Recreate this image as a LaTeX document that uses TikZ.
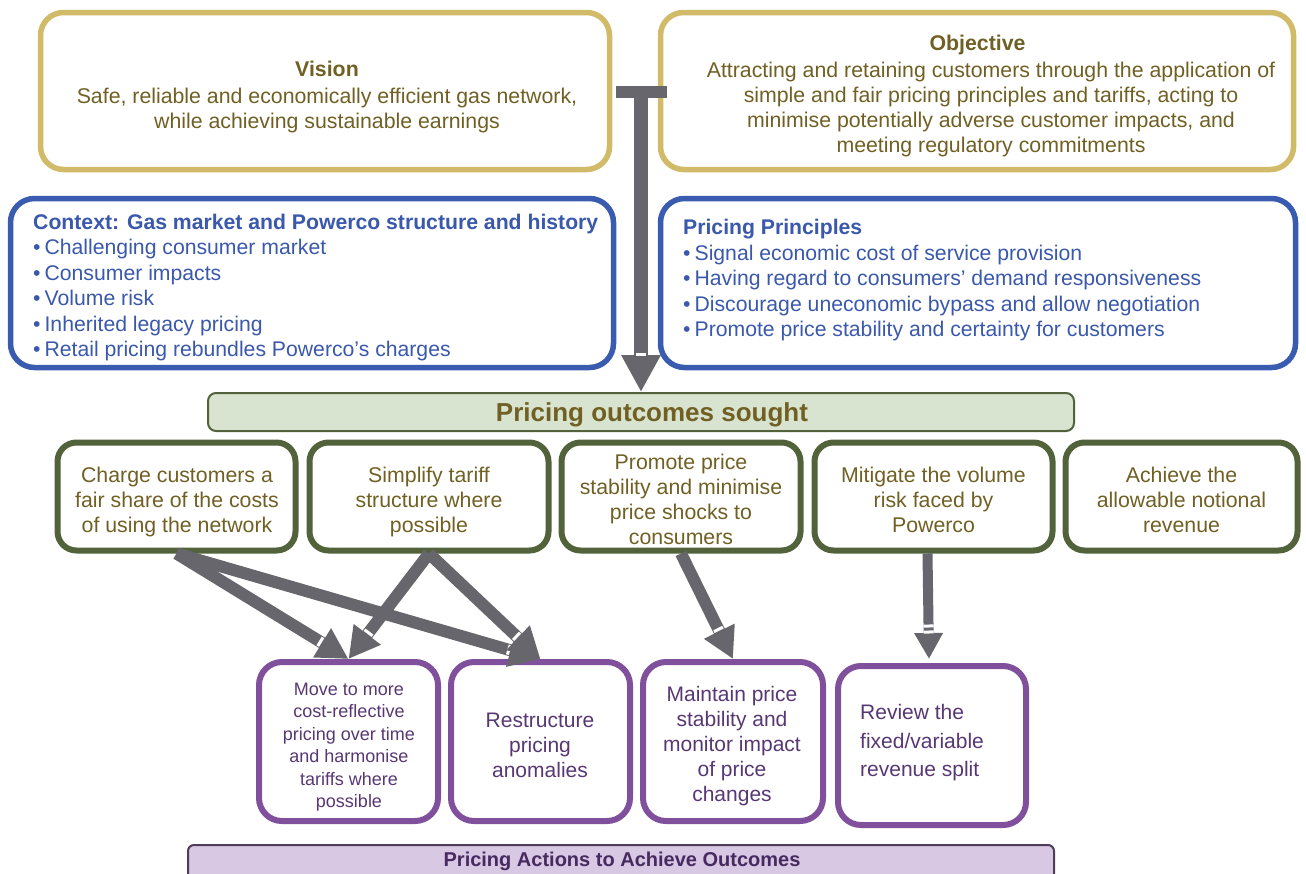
\documentclass[tikz,border=0pt]{standalone}
\usepackage{fontspec}
\setmainfont{Liberation Sans}
\usetikzlibrary{arrows.meta,calc,decorations.markings}
\definecolor{goldline}{RGB}{209,186,104}
\definecolor{olivetext}{RGB}{112,96,36}
\definecolor{blueline}{RGB}{58,92,176}
\definecolor{bluetext}{RGB}{58,88,172}
\definecolor{greenline}{RGB}{82,98,58}
\definecolor{greenfill}{RGB}{216,227,208}
\definecolor{purpleline}{RGB}{128,80,156}
\definecolor{purpletext}{RGB}{88,56,116}
\definecolor{lilacfill}{RGB}{216,200,228}
\definecolor{lilacline}{RGB}{78,60,88}
\definecolor{actiontext}{RGB}{70,42,96}
\definecolor{arrowgrey}{RGB}{103,102,108}
\begin{document}
\begin{tikzpicture}[x=1pt,y=-1pt,
  goldbox/.style={draw=goldline,line width=5.5pt,rounded corners=23pt,fill=white},
  bluebox/.style={draw=blueline,line width=5.5pt,rounded corners=24pt,fill=white},
  greenbox/.style={draw=greenline,line width=6pt,rounded corners=19pt,fill=white},
  purplebox/.style={draw=purpleline,line width=6pt,rounded corners=23pt,fill=white},
  bartxt/.style={inner sep=0pt,font=\bfseries\fontsize{21pt}{25pt}\selectfont},
  goldtxt/.style={inner sep=0pt,align=center,text=olivetext,font=\fontsize{21.3pt}{25pt}\selectfont},
  bluetxt/.style={inner sep=0pt,align=left,anchor=west,text=bluetext,font=\fontsize{21.2pt}{25.5pt}\selectfont},
  greentxt/.style={inner sep=0pt,align=center,text=olivetext,font=\fontsize{21.3pt}{25pt}\selectfont},
  purpletxt/.style={inner sep=0pt,align=center,text=purpletext,font=\fontsize{21pt}{25pt}\selectfont},
  notch/.style={postaction={decorate,decoration={markings,
     mark=at position -#1 with {\fill[white] (-1.5pt,-5pt) rectangle (1.5pt,5pt);}}}},
  bigarrow/.style={draw=arrowgrey,line width=12pt,-{Triangle[length=31pt,width=32pt]},notch=33pt},
]
\clip (0,0) rectangle (1306,873);
\fill[white] (0,0) rectangle (1306,873);

% top boxes
\node[goldbox,minimum width=569pt,minimum height=157pt] (vision) at (325,91) {};
\node[goldbox,minimum width=633pt,minimum height=157pt] (objective) at (977,91) {};
\node[bluebox,minimum width=603pt,minimum height=169pt] (context) at (312,283) {};
\node[bluebox,minimum width=635pt,minimum height=169pt] (principles) at (978,283) {};

\node[goldtxt] (visiontext) at (327,96.5) {\textbf{Vision}\\[2pt]
  Safe, reliable and economically efficient gas network,\\
  while achieving sustainable earnings};
\node[goldtxt] (objectivetext) at (991,96) {\textbf{Objective}\hspace*{27pt}\\[2pt]
  Attracting and retaining customers through the application of\\
  simple and fair pricing principles and tariffs, acting to\\
  minimise potentially adverse customer impacts, and\\
  meeting regulatory commitments};

\node[bluetxt] (contexttext) at (33,287.5) {\textbf{Context: Gas market and Powerco structure and history}\\
  •\kern4pt Challenging consumer market\\
  •\kern4pt Consumer impacts\\
  •\kern4pt Volume risk\\
  •\kern4pt Inherited legacy pricing\\
  •\kern4pt Retail pricing rebundles Powerco’s charges};
\node[bluetxt] (principlestext) at (683,280.5) {\textbf{Pricing Principles}\\
  •\kern4pt Signal economic cost of service provision\\
  •\kern4pt Having regard to consumers’ demand responsiveness\\
  •\kern4pt Discourage uneconomic bypass and allow negotiation\\
  •\kern4pt Promote price stability and certainty for customers};

% outcomes bar
\node[draw=greenline,line width=2pt,fill=greenfill,rounded corners=8pt,
  minimum width=866pt,minimum height=38pt] (outcomes) at (641,412) {};
\node[bartxt,text=olivetext,font=\bfseries\fontsize{26pt}{30pt}\selectfont] (outcomestext) at (652,415) {Pricing outcomes sought};

% outcome boxes
\node[greenbox,minimum width=238pt,minimum height=108pt] (g1) at (176.5,496.5) {};
\node[greenbox,minimum width=239pt,minimum height=108pt] (g2) at (429,496.5) {};
\node[greenbox,minimum width=239pt,minimum height=108pt] (g3) at (681,496.5) {};
\node[greenbox,minimum width=238pt,minimum height=108pt] (g4) at (933.5,496.5) {};
\node[greenbox,minimum width=232pt,minimum height=108pt] (g5) at (1181.5,496.5) {};

\node[greentxt] (g1text) at (177,502) {Charge customers a\\ fair share of the costs\\ of using the network};
\node[greentxt] (g2text) at (429,502) {Simplify tariff\\ structure where\\ possible};
\node[greentxt] (g3text) at (681,499.5) {Promote price\\ stability and minimise\\ price shocks to\\ consumers};
\node[greentxt] (g4text) at (933.5,500) {Mitigate the volume\\ risk faced by\\ Powerco};
\node[greentxt] (g5text) at (1181.5,500) {Achieve the\\ allowable notional\\ revenue};

% action boxes
\node[purplebox,minimum width=179pt,minimum height=159pt] (p1) at (348.5,741.5) {};
\node[purplebox,minimum width=179pt,minimum height=159pt] (p2) at (540.5,741.5) {};
\node[purplebox,minimum width=180pt,minimum height=159pt] (p3) at (733,741.5) {};
\node[purplebox,minimum width=188pt,minimum height=159pt] (p4) at (932,745.5) {};

\node[purpletxt,font=\fontsize{18pt}{22.5pt}\selectfont] (p1text) at (349,747) {Move to more\\ cost-reflective\\ pricing over time\\ and harmonise\\ tariffs where\\ possible};
\node[purpletxt] (p2text) at (540,745) {Restructure\\ pricing\\ anomalies};
\node[purpletxt] (p3text) at (732,746.5) {Maintain price\\ stability and\\ monitor impact\\ of price\\ changes};
\node[purpletxt,align=left,anchor=west,font=\fontsize{21pt}{28.5pt}\selectfont] (p4text) at (860,743) {Review the\\ fixed/variable\\ revenue split};

% bottom bar
\node[draw=lilacline,line width=2pt,fill=lilacfill,rounded corners=6pt,
  minimum width=866pt,minimum height=40pt] (actions) at (621,865) {};
\node[bartxt,text=actiontext,font=\bfseries\fontsize{20pt}{24pt}\selectfont] (actionstext) at (622,861) {Pricing Actions to Achieve Outcomes};

% main T arrow
\coordinate (tjoin) at (641,86);
\draw[draw=arrowgrey,line width=14pt,
  {Rectangle[length=12pt,width=51pt]}-{Triangle[length=37pt,width=37pt]},notch=38pt]
  (tjoin) -- (tjoin |- outcomes.north);

% outcome-to-action arrows
\draw[bigarrow] (g1.south) -- (p1.north);
\draw[bigarrow] (g1.south) -- (p2.north);
\draw[bigarrow] (g2.south) -- (p1.north);
\draw[bigarrow] (g2.south) -- (p2.north);
\draw[bigarrow] (g3.south) -- (p3.north);
\draw[bigarrow,line width=10pt,-{Triangle[length=26pt,width=27pt]},notch=27pt]
  ($(g4.south)+(-6,0)$) -- ($(p4.north)+(-3,-4)$);
\end{tikzpicture}
\end{document}
